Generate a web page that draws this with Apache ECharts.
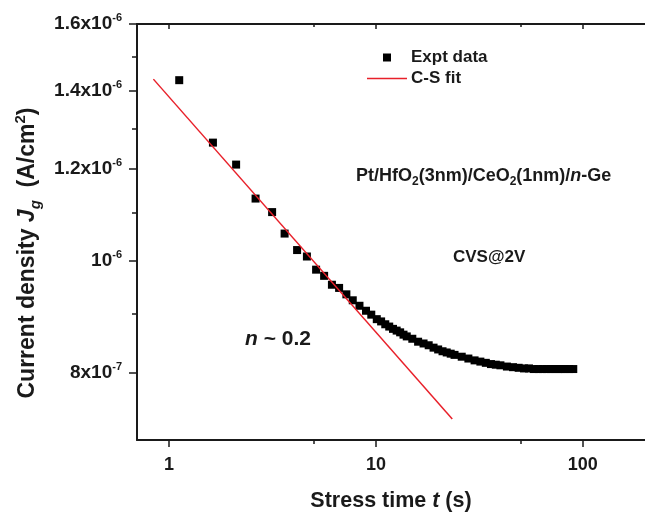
<!DOCTYPE html>
<html>
<head>
<meta charset="utf-8">
<script src="https://cdn.jsdelivr.net/npm/echarts@6/dist/echarts.min.js"></script>
<style>
  html, body { margin: 0; padding: 0; background: #fff; }
  #main { width: 645px; height: 517px; }
</style>
</head>
<body>
<div id="main"></div>
<script>
// stress time (s) and gate current density (A/cm2)
const stressTime = [1.12, 1.63, 2.11, 2.62, 3.15, 3.62, 4.16, 4.64, 5.14, 5.62, 6.13, 6.64, 7.2, 7.73, 8.33, 8.96,
  9.5, 10.1, 10.6, 11.1, 11.6, 12.1, 12.6, 13.1, 13.6, 14.1, 15, 16, 17, 18, 19, 20, 21, 22, 23, 24,
  26, 28, 30, 32, 34, 36, 38, 40, 43, 46, 49, 52, 55, 58, 61, 64, 67, 70, 73, 76, 79, 82, 86, 90];
const currentDensity = [1.431e-6, 1.264e-6, 1.210e-6, 1.131e-6, 1.101e-6, 1.055e-6, 1.021e-6, 1.008e-6,
  0.982e-6, 0.970e-6, 0.953e-6, 0.947e-6, 0.935e-6, 0.924e-6, 0.914e-6, 0.905e-6,
  0.898e-6, 0.890e-6, 0.886e-6, 0.881e-6, 0.877e-6, 0.873e-6, 0.870e-6, 0.867e-6, 0.863e-6, 0.860e-6,
  0.856e-6, 0.851e-6, 0.848e-6, 0.845e-6, 0.841e-6, 0.838e-6, 0.835e-6, 0.833e-6, 0.831e-6, 0.829e-6,
  0.826e-6, 0.823e-6, 0.820e-6, 0.818e-6, 0.816e-6, 0.814e-6, 0.813e-6, 0.812e-6, 0.810e-6, 0.809e-6,
  0.808e-6, 0.807e-6, 0.807e-6, 0.806e-6, 0.806e-6, 0.806e-6, 0.806e-6, 0.806e-6, 0.806e-6, 0.806e-6,
  0.806e-6, 0.806e-6, 0.806e-6, 0.806e-6];

// C-S fit line end points (n ~ 0.2)
const fitTime = [0.84, 23.4];
const fitDensity = [1.434e-6, 0.730e-6];

const xRange = [0.7, 200];
const xTickValues = [1, 10, 100];
const xTickLabels = ['1', '10', '100'];
const xMinorTicks = [5, 50];

const yRange = [7e-7, 1.6e-6];
const yTickValues = [8e-7, 1e-6, 1.2e-6, 1.4e-6, 1.6e-6];
const yTickMantissa = ['8x10', '10', '1.2x10', '1.4x10', '1.6x10'];
const yTickExponent = ['-7', '-6', '-6', '-6', '-6'];
const yMinorTicks = [9e-7, 1.1e-6, 1.3e-6, 1.5e-6];

const FONT = '"Liberation Sans", Arial, Helvetica, sans-serif';
const INK = '#1a1a1a';
const RED = '#e8202a';
const lg = Math.log10;

function tickIndex(list, v) {
  return list.findIndex(t => Math.abs(lg(t) - v) < 1e-6);
}

const chart = echarts.init(document.getElementById('main'), null, { renderer: 'canvas' });

const xBase = {
  type: 'value', gridIndex: 0,
  min: lg(xRange[0]), max: lg(xRange[1]),
  splitLine: { show: false },
  axisLine: { onZero: false, show: false }
};
const yBase = {
  type: 'value', gridIndex: 0,
  min: lg(yRange[0]), max: lg(yRange[1]),
  splitLine: { show: false },
  axisLine: { onZero: false, show: false }
};

const option = {
  animation: false,
  backgroundColor: '#fff',
  textStyle: { fontFamily: FONT },
  grid: { left: 137, top: 24, width: 516, height: 422, containLabel: false },
  legend: {
    orient: 'vertical',
    left: 367, top: 49, padding: 0,
    itemWidth: 40, itemHeight: 8, itemGap: 4,
    symbolKeepAspect: true,
    textStyle: { fontFamily: FONT, fontWeight: 'bold', fontSize: 17, color: INK, padding: [0, 0, 0, -1] },
    data: [
      { name: 'Expt data', icon: 'path://M0,0L8,0L8,8L0,8Z', itemStyle: { color: '#000' } },
      { name: 'C-S fit', icon: 'path://M0,0L80,0L80,3L0,3Z', itemStyle: { color: RED } }
    ]
  },
  xAxis: [
    Object.assign({}, xBase, {
      position: 'bottom',
      axisLine: { show: true, onZero: false, lineStyle: { color: INK, width: 2 } },
      axisTick: { show: true, customValues: xTickValues.map(lg), length: 7, lineStyle: { color: INK, width: 1.5 } },
      axisLabel: {
        customValues: xTickValues.map(lg), margin: 16,
        fontFamily: FONT, fontWeight: 'bold', fontSize: 18, color: INK,
        formatter: v => xTickLabels[tickIndex(xTickValues, v)]
      },
      name: 'Stress time {i|t} (s)',
      nameLocation: 'middle', nameGap: 50,
      nameTextStyle: {
        fontFamily: FONT, fontWeight: 'bold', fontSize: 21.5, color: INK,
        rich: { i: { fontFamily: FONT, fontWeight: 'bold', fontStyle: 'italic', fontSize: 21.5, color: INK } }
      }
    }),
    Object.assign({}, xBase, {
      position: 'bottom',
      axisTick: { show: true, customValues: xMinorTicks.map(lg), length: 4, lineStyle: { color: INK, width: 1.5 } },
      axisLabel: { show: false }
    }),
    Object.assign({}, xBase, {
      position: 'top',
      axisLine: { show: true, onZero: false, lineStyle: { color: INK, width: 2 } },
      axisTick: { show: true, inside: true, customValues: xTickValues.map(lg), length: 5, lineStyle: { color: INK, width: 1.5 } },
      axisLabel: { show: false }
    }),
    Object.assign({}, xBase, {
      position: 'top',
      axisTick: { show: true, inside: true, customValues: xMinorTicks.map(lg), length: 3, lineStyle: { color: INK, width: 1.5 } },
      axisLabel: { show: false }
    })
  ],
  yAxis: [
    Object.assign({}, yBase, {
      position: 'left',
      axisLine: { show: true, onZero: false, lineStyle: { color: INK, width: 2 } },
      axisTick: { show: true, customValues: yTickValues.map(lg), length: 8, lineStyle: { color: INK, width: 1.5 } },
      axisLabel: {
        customValues: yTickValues.map(lg), margin: 15,
        formatter: v => {
          const i = tickIndex(yTickValues, v);
          return '{b|' + yTickMantissa[i] + '}{s|' + yTickExponent[i] + '}';
        },
        rich: {
          b: { fontFamily: FONT, fontWeight: 'bold', fontSize: 19, color: INK, lineHeight: 23 },
          s: { fontFamily: FONT, fontWeight: 'bold', fontSize: 11, color: INK, lineHeight: 11, verticalAlign: 'top' }
        }
      },
      name: 'Current density {i|J}{sub|g}  (A/cm{sup|2})',
      nameLocation: 'middle', nameGap: 94, nameRotate: 90,
      nameTextStyle: {
        fontFamily: FONT, fontWeight: 'bold', fontSize: 23, color: INK, lineHeight: 30,
        padding: [0, 42, 0, 0],
        rich: {
          i: { fontFamily: FONT, fontWeight: 'bold', fontStyle: 'italic', fontSize: 23, color: INK, lineHeight: 30 },
          sub: { fontFamily: FONT, fontWeight: 'bold', fontStyle: 'italic', fontSize: 15, color: INK, lineHeight: 15, verticalAlign: 'bottom' },
          sup: { fontFamily: FONT, fontWeight: 'bold', fontSize: 15, color: INK, lineHeight: 15, verticalAlign: 'top' }
        }
      }
    }),
    Object.assign({}, yBase, {
      position: 'left',
      axisTick: { show: true, customValues: yMinorTicks.map(lg), length: 5, lineStyle: { color: INK, width: 1.5 } },
      axisLabel: { show: false }
    })
  ],
  series: [
    {
      name: 'C-S fit',
      type: 'line',
      xAxisIndex: 0, yAxisIndex: 0,
      showSymbol: false, symbol: 'none',
      lineStyle: { color: RED, width: 1.5 },
      itemStyle: { color: RED },
      data: fitTime.map((t, i) => [lg(t), lg(fitDensity[i])]),
      z: 3
    },
    {
      name: 'Expt data',
      type: 'scatter',
      xAxisIndex: 0, yAxisIndex: 0,
      symbol: 'rect', symbolSize: 8,
      itemStyle: { color: '#000', opacity: 1 },
      data: stressTime.map((t, i) => [lg(t), lg(currentDensity[i])]),
      z: 2
    }
  ],
  graphic: [
    {
      type: 'text', left: 356, top: 167,
      style: {
        text: 'Pt/HfO{sub|2}(3nm)/CeO{sub|2}(1nm)/{i|n}-Ge',
        font: 'bold 18px ' + FONT, fill: INK,
        rich: {
          sub: { font: 'bold 12px ' + FONT, fill: INK, lineHeight: 12, verticalAlign: 'bottom' },
          i: { font: 'italic bold 18px ' + FONT, fill: INK, lineHeight: 23 }
        }
      }
    },
    {
      type: 'text', left: 453, top: 249,
      style: { text: 'CVS@2V', font: 'bold 17px ' + FONT, fill: INK }
    },
    {
      type: 'text', left: 245, top: 329,
      style: {
        text: '{i|n} ~ 0.2',
        font: 'bold 21px ' + FONT, fill: INK,
        rich: { i: { font: 'italic bold 21px ' + FONT, fill: INK } }
      }
    }
  ]
};

chart.setOption(option);
</script>
</body>
</html>
